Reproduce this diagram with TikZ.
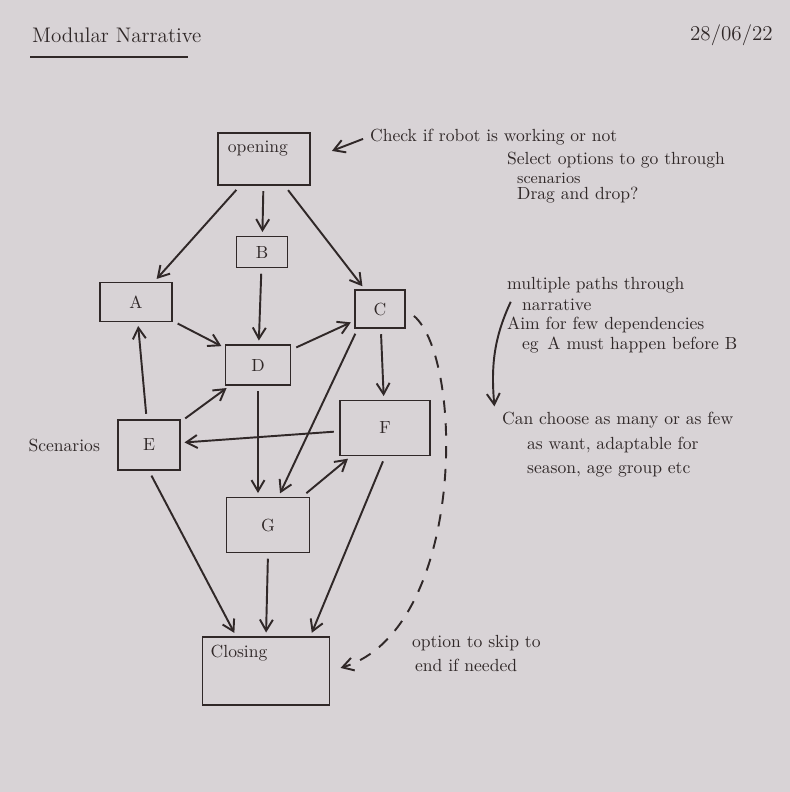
\documentclass[tikz,border=0pt]{standalone}
\usetikzlibrary{arrows.meta,positioning}
\definecolor{paper}{RGB}{216,211,214}
\definecolor{pen}{RGB}{48,40,40}

\begin{document}
\begin{tikzpicture}[
    x=0.02cm, y=-0.02cm,
    box/.style={draw=pen, line width=1.1pt, inner sep=0pt, text=pen},
    note/.style={anchor=west, text=pen, inner sep=1pt},
    edge/.style={-{Straight Barb[length=2.2mm,width=2.6mm]}, pen, line width=1.1pt, shorten >=2pt, shorten <=3pt},
    skip/.style={edge, dash pattern=on 7pt off 6pt}
]
    \fill[paper] (0,0) rectangle (790,792);

    % header
    \node[note, font=\large] (title) at (30,35) {Modular Narrative};
    \draw[pen, line width=1pt] ([yshift=-0.25cm]title.south west) -- ([yshift=-0.25cm,xshift=-0.3cm]title.south east);
    \node[note, font=\large] (date) at (688,35) {28/06/22};

    % boxes
    \node[box, minimum width=1.84cm, minimum height=1.04cm] (open) at (264,159) {};
    \node[note, anchor=north west] (opentxt) at ([shift={(5pt,-4pt)}]open.north west) {opening};
    \node[box, minimum width=1.02cm, minimum height=0.62cm] (B) at (262,252) {B};
    \node[box, minimum width=1.44cm, minimum height=0.78cm] (A) at (136,302) {A};
    \node[box, minimum width=1.0cm, minimum height=0.76cm] (C) at (380,309) {C};
    \node[box, minimum width=1.3cm, minimum height=0.8cm] (D) at (258,365) {D};
    \node[box, minimum width=1.24cm, minimum height=1.0cm] (E) at (149,445) {E};
    \node[box, minimum width=1.8cm, minimum height=1.1cm] (F) at (385,428) {F};
    \node[box, minimum width=1.66cm, minimum height=1.1cm] (G) at (268,525) {G};
    \node[box, minimum width=2.54cm, minimum height=1.36cm] (close) at (266,671) {};
    \node[note, anchor=north west] (closetxt) at ([shift={(4pt,-4pt)}]close.north west) {Closing};
    \node[note, anchor=east] (scen) at ([xshift=-0.3cm]E.west) {Scenarios};

    % connectors
    \draw[edge] (open) -- (B);
    \draw[edge] (open) -- (A);
    \draw[edge] (open) -- (C);
    \draw[edge] (A) -- (D);
    \draw[edge] (B) -- (D);
    \draw[edge] (D) -- (C);
    \draw[edge] (E) -- (A);
    \draw[edge] (E) -- (D);
    \draw[edge] (F) -- (E);
    \draw[edge] (C) -- (F);
    \draw[edge] ([xshift=2pt]C.south west) -- ([xshift=6pt]G.north);
    \draw[edge] (D.south) -- (D.south |- G.north);
    \draw[edge] (G) -- (F);
    \draw[edge] (E.south) -- ([xshift=-0.6cm]close.north);
    \draw[edge] (G.south) -- (close.north);
    \draw[edge] (F.south) -- ([xshift=-0.4cm]close.north east);
    \draw[skip, shorten <=6pt, shorten >=6pt] (C.east) .. controls (465,360) and (465,630) .. (close.east);

    % notes
    \node[note] (check) at (368,137) {Check if robot is working or not};
    \draw[edge, shorten >=0.45cm] (check.west) -- (open.east);
    \node[note] (select) at (505,160) {Select options to go through};
    \node[note, font=\small] (scenarios) at (515,178) {scenarios};
    \node[note] (drag) at (515,195) {Drag and drop?};

    \node[note] (paths) at (505,285) {multiple paths through};
    \node[note] (narr) at (520,305) {narrative};
    \node[note] (aim) at (505,325) {Aim for few dependencies};
    \node[note] (eg) at (520,345) {eg\enspace A must happen before B};
    \node[note] (many) at (500,420) {Can choose as many or as few};
    \node[note] (want) at (525,445) {as want, adaptable for};
    \node[note] (season) at (525,470) {season, age group etc};
    \draw[edge] ([xshift=-4pt]narr.north west) to[out=245, in=95] ([xshift=-3pt]many.north west);

    \node[note] (opt) at (410,643) {option to skip to};
    \node[note] (end) at (413,665) {end if needed};
\end{tikzpicture}
\end{document}
